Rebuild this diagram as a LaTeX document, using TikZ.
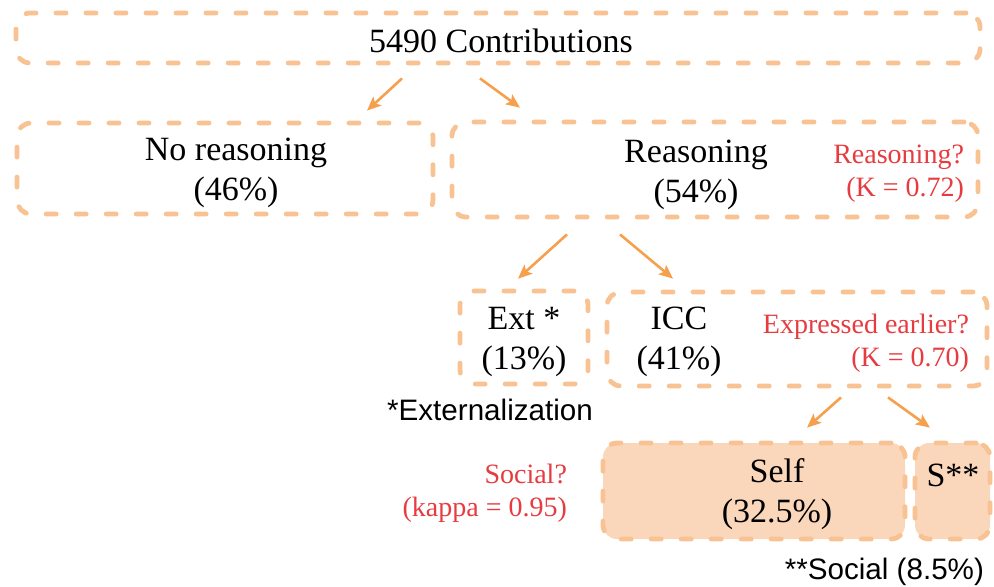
\documentclass[tikz,border=0pt]{standalone}
\usepackage{fontspec}
\setmainfont{Liberation Serif}
\setsansfont{Liberation Sans}
\usepackage{tikz}
\usetikzlibrary{calc,arrows.meta}

\definecolor{peach}{HTML}{F8C293}
\definecolor{peachfill}{HTML}{FAD7BA}
\definecolor{arrorange}{HTML}{F6A04E}
\definecolor{askred}{HTML}{E63B3F}

\begin{document}
\begin{tikzpicture}[x=0.5pt,y=-0.5pt,
  cbox/.style={draw=peach,line width=2.4pt,dash pattern=on 5pt off 10pt,
    line cap=round,rounded corners=7pt,inner sep=0pt},
  cboxfill/.style={cbox,fill=peachfill},
  lbl/.style={align=center,font=\fontsize{17}{20}\selectfont},
  ask/.style={align=right,anchor=east,text=askred,font=\fontsize{14}{16.5}\selectfont},
  note/.style={font=\sffamily\fontsize{14.8}{17}\selectfont},
  arr/.style={-{Stealth[length=7pt,width=6pt,inset=1.5pt]},draw=arrorange,line width=1.3pt}]
  \useasboundingbox (0,0) rectangle (994,586);

  % boxes
  \node[cbox,minimum width=482pt,minimum height=25pt] (top) at (498,38) {};
  \node[cbox,minimum width=208pt,minimum height=45.5pt] (noreason) at (225,168.5) {};
  \node[cbox,minimum width=263pt,minimum height=47.5pt] (reason) at (715,169.5) {};
  \node[cbox,minimum width=64pt,minimum height=46.5pt] (ext) at (524,337.5) {};
  \node[cbox,minimum width=190pt,minimum height=47pt] (icc) at (797,339) {};
  \node[cboxfill,minimum width=151pt,minimum height=48pt] (self) at (754,491) {};
  \node[cboxfill,minimum width=37.5pt,minimum height=48pt] (social) at (952.5,491) {};

  % labels
  \node[lbl] (toplbl) at (501,41) {5490 Contributions};
  \node[lbl] (noreasonlbl) at (236,173) {No reasoning\\(46\%)};
  \node[lbl] (reasonlbl) at (696,175) {Reasoning\\(54\%)};
  \node[lbl] (extlbl) at (524,342) {Ext *\\(13\%)};
  \node[lbl] (icclbl) at (679,342) {ICC\\(41\%)};
  \node[lbl] (selflbl) at (777,494) {Self\\(32.5\%)};
  \node[lbl] (sociallbl) at (953,475) {S**};

  % agreement questions
  \node[ask] (reasonask) at (971,174) {Reasoning?\\(K = 0.72)};
  \node[ask] (iccask) at (976,343) {Expressed earlier?\\(K = 0.70)};
  \node[ask] (socialask) at (574,493) {Social?\\(kappa = 0.95)};

  % footnotes
  \node[note] (extnote) at (490,410) {*Externalization};
  \node[note,anchor=east] (socialnote) at (991,572) {**Social (8.5\%)};

  % splits
  \draw[arr] ($(top.south)+(-96,13)$) -- ($(noreason.north)+(142,-10)$);
  \draw[arr] ($(top.south)+(-18,13)$) -- ($(reason.north)+(-195,-12)$);
  \draw[arr] ($(reason.south)+(-148,15)$) -- ($(ext.north)+(-6,-10)$);
  \draw[arr] ($(reason.south)+(-95,15)$) -- ($(icc.north)+(-124,-11)$);
  \draw[arr] ($(icc.south)+(44,9)$) -- ($(self.north)+(53,-13)$);
  \draw[arr] ($(icc.south)+(91,9)$) -- ($(social.north)+(-22.5,-13)$);
\end{tikzpicture}
\end{document}
